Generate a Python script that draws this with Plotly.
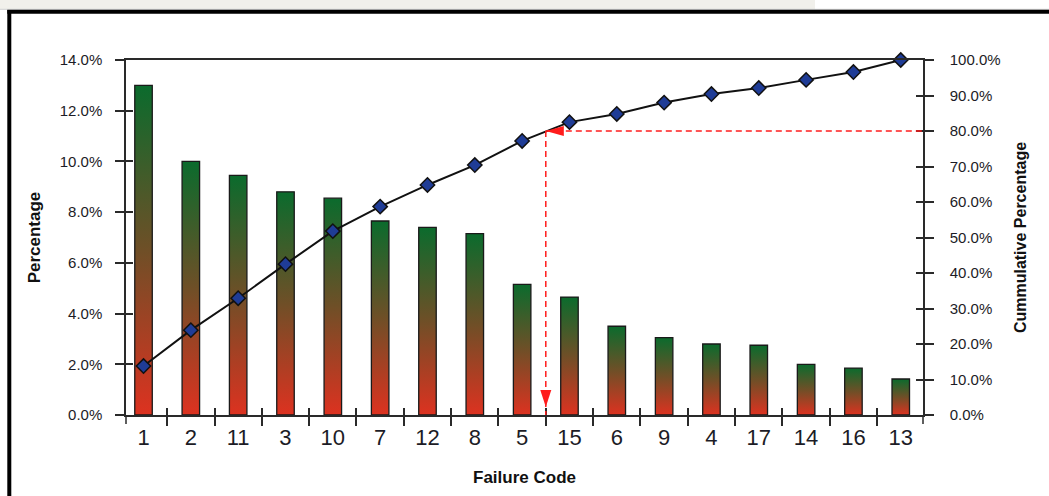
import plotly.graph_objects as go

# Failure codes in Pareto order, share of failures (%) and running total (%)
codes = ["1", "2", "11", "3", "10", "7", "12", "8", "5", "15", "6", "9", "4", "17", "14", "16", "13"]
share_pct = [13.0, 10.0, 9.45, 8.8, 8.55, 7.65, 7.4, 7.15, 5.15, 4.65, 3.5, 3.05, 2.8, 2.75, 2.0, 1.85, 1.42]
cumulative_pct = [13.8, 23.9, 32.9, 42.5, 51.8, 58.7, 64.8, 70.4, 77.2, 82.5, 84.8, 88.0, 90.4, 92.1, 94.4, 96.6, 100.0]
left_ticks = [0, 2, 4, 6, 8, 10, 12, 14]
right_ticks = [0, 10, 20, 30, 40, 50, 60, 70, 80, 90, 100]
pareto_level = 80.0
last_vital_code = "5"

# page geometry
W, H = 1049, 496
ML, MR, MT, MB = 126, 126, 60, 81
PW, PH = W - ML - MR, H - MT - MB
X_RANGE = [-0.37, 16.47]
BAR_HALF = 0.185

FONT = "Liberation Sans, Arial, sans-serif"
INK = "#1c1c26"
AXIS = "#2a2a2a"
RED = "#ff1c1c"


def px_x(p):
    return (p - ML) / PW


def px_y(p):
    return (H - MB - p) / PH


def pct_labels(vals):
    return [f"{v:.1f}%" for v in vals]


fig = go.Figure()

# gradient bars (green at the top fading to red at the base)
for i, v in enumerate(share_pct):
    fig.add_trace(go.Scatter(
        x=[i - BAR_HALF, i + BAR_HALF, i + BAR_HALF, i - BAR_HALF, i - BAR_HALF],
        y=[0, 0, v, v, 0],
        mode="lines", fill="toself",
        fillgradient=dict(type="vertical", start=0, stop=v,
                          colorscale=[[0, "#dd3220"], [0.5, "#6f4f27"], [1, "#0b6b2d"]]),
        line=dict(color="#1a1a1a", width=1.3),
        hoverinfo="skip", showlegend=False, xaxis="x", yaxis="y",
    ))

# cumulative curve
fig.add_trace(go.Scatter(
    x=list(range(len(codes))), y=cumulative_pct, yaxis="y2",
    mode="lines+markers",
    line=dict(color="#111111", width=2),
    marker=dict(symbol="diamond", size=11, color="#1f3c96",
                line=dict(color="#111111", width=1.5)),
    cliponaxis=False, showlegend=False, hoverinfo="skip",
))

# carriers for the inner halves of the crossing tick marks
fig.add_trace(go.Scatter(x=[None], y=[None], xaxis="x3", yaxis="y3", showlegend=False, hoverinfo="skip"))
fig.add_trace(go.Scatter(x=[None], y=[None], xaxis="x", yaxis="y4", showlegend=False, hoverinfo="skip"))

boundaries = [i + 0.5 for i in range(len(codes) - 1)]
tick_common = dict(tickcolor=AXIS, tickwidth=1.5, showgrid=False, zeroline=False, automargin=False)
title_font = dict(family=FONT, size=17, color="#111")

fig.update_layout(
    width=W, height=H,
    margin=dict(l=ML, r=MR, t=MT, b=MB, pad=0, autoexpand=False),
    paper_bgcolor="white", plot_bgcolor="white",
    showlegend=False,
    xaxis=dict(
        range=X_RANGE, tickmode="array", tickvals=list(range(len(codes))), ticktext=codes,
        ticks="", showline=True, linecolor=AXIS, linewidth=1.5, mirror=True,
        showgrid=False, zeroline=False, automargin=False,
        tickfont=dict(family=FONT, size=22, color=INK), ticklabelstandoff=2,
        minor=dict(tickmode="array", tickvals=boundaries, ticks="outside", ticklen=9,
                   tickcolor=AXIS, tickwidth=1.5, showgrid=False),
        title=dict(text="<b>Failure Code</b>", font=title_font, standoff=22),
    ),
    xaxis3=dict(
        overlaying="x", anchor="y", range=X_RANGE, tickmode="array", tickvals=boundaries,
        ticks="inside", ticklen=7, showticklabels=False, showline=False, **tick_common,
    ),
    yaxis=dict(
        range=[0, 14], tickmode="array", tickvals=left_ticks, ticktext=pct_labels(left_ticks),
        ticks="outside", ticklen=9, showline=True, linecolor=AXIS, linewidth=1.5,
        tickfont=dict(family=FONT, size=15, color=INK), ticklabelstandoff=10,
        title=dict(text="<b>Percentage</b>", font=title_font, standoff=15),
        **tick_common,
    ),
    yaxis3=dict(
        overlaying="y", side="left", anchor="x", range=[0, 14], tickmode="array", tickvals=left_ticks,
        ticks="inside", ticklen=7, showticklabels=False, showline=False, **tick_common,
    ),
    yaxis2=dict(
        overlaying="y", side="right", anchor="x", range=[0, 100], tickmode="array", tickvals=right_ticks,
        ticktext=pct_labels(right_ticks), ticks="outside", ticklen=9,
        showline=True, linecolor=AXIS, linewidth=1.5,
        tickfont=dict(family=FONT, size=15, color=INK), ticklabelstandoff=13,
        title=dict(text="<b>Cummulative Percentage</b>", font=dict(family=FONT, size=16, color="#111"),
                   standoff=15),
        **tick_common,
    ),
    yaxis4=dict(
        overlaying="y", side="right", anchor="x", range=[0, 100], tickmode="array", tickvals=right_ticks,
        ticks="inside", ticklen=7, showticklabels=False, showline=False, **tick_common,
    ),
)

cut_x = codes.index(last_vital_code) + 0.5
dash = dict(color=RED, width=1.5, dash="6px,4px")

shapes = [
    # faint strip above the frame
    dict(type="rect", xref="paper", yref="paper", x0=px_x(0), x1=px_x(815), y0=px_y(0), y1=px_y(9),
         fillcolor="#f1f0eb", line=dict(width=0), layer="below"),
    dict(type="line", xref="paper", yref="paper", x0=px_x(0), x1=px_x(W), y0=px_y(9.3), y1=px_y(9.3),
         line=dict(color="#d0d0d0", width=1)),
    # outer frame
    dict(type="line", xref="paper", yref="paper", x0=px_x(9.3), x1=px_x(9.3), y0=px_y(10), y1=px_y(H + 5),
         line=dict(color="black", width=4)),
    dict(type="line", xref="paper", yref="paper", x0=px_x(7.3), x1=px_x(W + 5), y0=px_y(11.8), y1=px_y(11.8),
         line=dict(color="black", width=4)),
    # value axes run a little past the category axis
    dict(type="line", xref="paper", yref="paper", x0=0, x1=0, y0=0, y1=-9 / PH,
         line=dict(color=AXIS, width=1.5)),
    dict(type="line", xref="paper", yref="paper", x0=1, x1=1, y0=0, y1=-9 / PH,
         line=dict(color=AXIS, width=1.5)),
    # 80 % guide lines
    dict(type="line", xref="x", yref="y2", x0=cut_x, x1=X_RANGE[1], y0=pareto_level, y1=pareto_level, line=dash),
    dict(type="line", xref="x", yref="y2", x0=cut_x, x1=cut_x, y0=pareto_level, y1=0, line=dash),
    # arrow heads
    dict(type="path", xref="x", yref="y2", xsizemode="pixel", ysizemode="pixel",
         xanchor=cut_x, yanchor=pareto_level, path="M0,0 L18,5 L18,-5 Z",
         fillcolor=RED, line=dict(width=0)),
    dict(type="path", xref="x", yref="y2", xsizemode="pixel", ysizemode="pixel",
         xanchor=cut_x, yanchor=0, path="M0,8 L-5.5,25 L5.5,25 Z",
         fillcolor=RED, line=dict(width=0)),
]
fig.update_layout(shapes=shapes)

fig.write_html("out.html")
